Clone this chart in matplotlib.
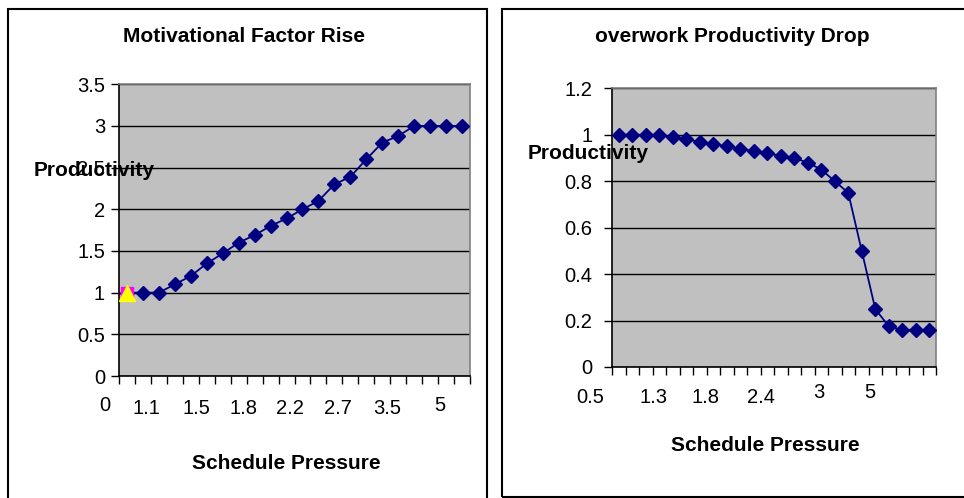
import numpy as np
import matplotlib
matplotlib.use("Agg")
import matplotlib.pyplot as plt
from matplotlib.patches import Rectangle
from matplotlib.ticker import MultipleLocator, NullFormatter, FixedLocator

plt.rcParams['font.family'] = ['Liberation Sans', 'DejaVu Sans']

# Motivational Factor Rise (22 categories)
rise_vals = [1.0, 1.0, 1.0, 1.1, 1.2, 1.35, 1.47, 1.6, 1.69, 1.8, 1.89,
             2.0, 2.1, 2.3, 2.39, 2.6, 2.8, 2.88, 3.0, 3.0, 3.0, 3.0]
rise_labels = ["0", "1.1", "1.5", "1.8", "2.2", "2.7", "3.5", "5"]
rise_label_pos = [-1.4, 1.2, 4.35, 7.3, 10.2, 13.2, 16.3, 19.6]
rise_label_high = [True, False, False, False, False, False, False, True]

# overwork Productivity Drop (24 categories)
drop_vals = [1.0, 1.0, 1.0, 1.0, 0.99, 0.98, 0.97, 0.96, 0.95, 0.94, 0.93, 0.92,
             0.91, 0.90, 0.88, 0.85, 0.80, 0.75, 0.50, 0.25, 0.175, 0.16, 0.16, 0.16]
drop_labels = ["0.5", "1.3", "1.8", "2.4", "3", "5"]
drop_label_pos = [-2.15, 2.55, 6.4, 10.5, 14.8, 18.6]
drop_label_high = [False, False, False, False, True, True]

W, H = 964, 498
fig = plt.figure(figsize=(W / 100, H / 100), dpi=100)

# chart frames
fig.patches.append(Rectangle((8 / W, -0.01), (487 - 8) / W, 1 - 9.5 / H + 0.01,
                             transform=fig.transFigure, fill=False, ec='black', lw=1.5))
fig.patches.append(Rectangle((502 / W, 1 - 497 / H), 0.99, (497 - 9.5) / H,
                             transform=fig.transFigure, fill=False, ec='black', lw=1.5))

navy = '#000080'
fs_tick = 14.5
fs_lab = 15


def style_axes(ax, n, ymax, ystep):
    ax.set_facecolor('#C0C0C0')
    ax.set_xlim(-0.5, n - 0.5)
    ax.set_ylim(0, ymax)
    ax.yaxis.set_major_locator(MultipleLocator(ystep))
    ax.grid(axis='y', color='black', lw=1)
    ax.set_axisbelow(True)
    ax.xaxis.set_major_locator(FixedLocator(np.arange(-0.5, n, 1.0)))
    ax.xaxis.set_major_formatter(NullFormatter())
    ax.tick_params(axis='x', direction='out', length=6, width=1, color='black')
    ax.tick_params(axis='y', direction='out', length=6, width=1, color='black',
                   labelsize=fs_tick, pad=4)
    ax.spines['left'].set_color('black')
    ax.spines['bottom'].set_color('black')
    ax.spines['top'].set_color('#808080')
    ax.spines['right'].set_color('#808080')
    for s in ax.spines.values():
        s.set_linewidth(1.2)


def cat_labels(ax, labels, pos, high, y_low, y_high):
    tr = ax.get_xaxis_transform()
    for lab, p, h in zip(labels, pos, high):
        ax.text(p, y_high if h else y_low, lab, transform=tr, ha='center', va='center',
                fontsize=fs_tick, clip_on=False)


# left chart
ax1 = fig.add_axes([119 / W, 1 - 376 / H, (470 - 119) / W, (376 - 84.3) / H])
style_axes(ax1, len(rise_vals), 3.5, 0.5)
ax1.yaxis.set_major_formatter(plt.FuncFormatter(lambda v, p: f"{v:g}"))
x1 = np.arange(len(rise_vals))
ax1.plot(x1, rise_vals, color=navy, lw=1.3, marker='D', ms=7, mfc=navy, mec=navy,
         clip_on=False, zorder=3)
ax1.plot(x1[:1], rise_vals[:1], ls='none', marker='s', ms=9, mfc='#FF00FF', mec='#FF00FF',
         clip_on=False, zorder=4)
ax1.plot(x1[:1], rise_vals[:1], ls='none', marker='^', ms=11, mfc='#FFFF00', mec='#FFFF00',
         clip_on=False, zorder=5)
cat_labels(ax1, rise_labels, rise_label_pos, rise_label_high, -0.11, -0.10)

fig.text(244 / W, 1 - 37 / H, "Motivational Factor Rise", ha='center', va='center',
         fontsize=fs_lab, fontweight='bold')
fig.text(34 / W, 1 - 170 / H, "Productivity", ha='left', va='center',
         fontsize=fs_lab, fontweight='bold')
fig.text(286 / W, 1 - 463 / H, "Schedule Pressure", ha='center', va='center',
         fontsize=fs_lab, fontweight='bold')

# right chart
ax2 = fig.add_axes([612 / W, 1 - 367 / H, (936 - 612) / W, (367 - 88.3) / H])
style_axes(ax2, len(drop_vals), 1.2, 0.2)
ax2.yaxis.set_major_formatter(plt.FuncFormatter(lambda v, p: f"{v:g}"))
ax2.tick_params(axis='y', pad=8)
x2 = np.arange(len(drop_vals))
ax2.plot(x2, drop_vals, color=navy, lw=1.3, marker='D', ms=7, mfc=navy, mec=navy,
         clip_on=False, zorder=3)
cat_labels(ax2, drop_labels, drop_label_pos, drop_label_high, -0.108, -0.093)

fig.text(732 / W, 1 - 36 / H, "overwork Productivity Drop", ha='center', va='center',
         fontsize=fs_lab, fontweight='bold')
fig.text(528 / W, 1 - 153 / H, "Productivity", ha='left', va='center',
         fontsize=fs_lab, fontweight='bold')
fig.text(765 / W, 1 - 445 / H, "Schedule Pressure", ha='center', va='center',
         fontsize=fs_lab, fontweight='bold')

fig.savefig("out.png", dpi=100)
